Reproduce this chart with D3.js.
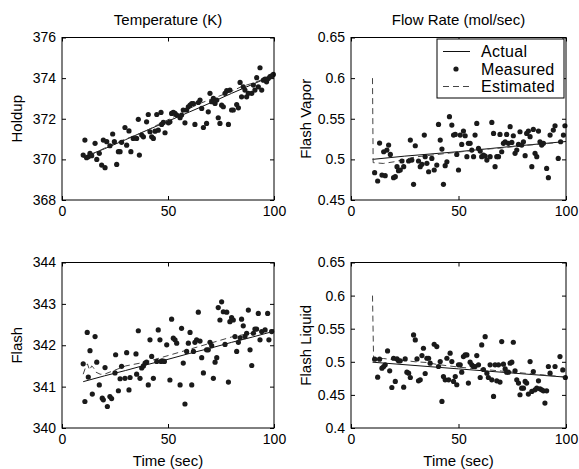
<!DOCTYPE html>
<html>
<head>
<meta charset="utf-8">
<script src="https://cdn.jsdelivr.net/npm/d3@7"></script>
<style>
  body { margin: 0; background: #fff; }
  svg { display: block; font-family: "Liberation Sans", Arial, sans-serif; }
  .tick text { font-size: 14px; fill: #000; }
  .tick line { stroke: #000; }
  .domain { display: none; }
</style>
</head>
<body>
<div id="chart"></div>
<script>
// x ticks shared by all panels
const timeTicks = [0, 50, 100];

// Temperature - Holdup
const holdupTicks = [368, 370, 372, 374, 376];
const holdupMeasured = [[10,370.21],[10.8,370.95],[11.6,370.08],[12.4,370.13],[13.2,370.3],[14,370.18],[15.6,370.79],[16.4,370.0],[17.6,370.3],[18.7,369.72],[19.5,370.95],[20.3,369.59],[21.1,370.87],[22.6,370.67],[23.9,371.25],[24.7,370.87],[25.8,369.75],[26.6,370.38],[27.4,370.38],[28.1,370.84],[29.7,371.57],[30.5,370.7],[31.6,371.4],[32.5,370.38],[33.6,371.03],[35.2,371.03],[36,371.97],[36.5,370.21],[37.6,371.2],[38.4,371.11],[39.9,371.85],[40.7,372.21],[41.5,371.36],[42.3,371.11],[43.1,371.03],[43.9,371.39],[44.7,372.21],[45.4,371.44],[46.7,372.31],[47,371.72],[47.8,371.82],[48.6,371.31],[50.2,371.8],[50.9,371.85],[51.7,372.26],[52.5,372.31],[53.3,372.26],[54.1,372.18],[55.7,372.05],[56.4,372.18],[57.2,372.43],[58,371.8],[58.8,372.43],[59.6,372.59],[60.4,372.67],[61.2,372.75],[62,372.75],[62.7,371.72],[64.3,372.8],[65.1,372.92],[65.9,372.51],[66.7,371.57],[68.2,371.77],[69,372.34],[69.8,373.25],[70.6,372.84],[71.4,373.0],[72.2,372.75],[73,372.92],[73.7,372.05],[74.5,371.77],[75.3,372.67],[76.1,372.59],[76.9,373.25],[77.7,373.38],[78.5,371.72],[79.2,373.41],[80,372.43],[80.8,372.43],[82.4,372.7],[83.2,372.54],[84,373.79],[84.7,373.08],[85.5,373.57],[86.3,373.41],[87.1,373.08],[87.9,373.25],[89.5,373.25],[90.3,373.66],[91,373.41],[91.8,374.02],[92.6,373.57],[93.4,374.51],[94.2,373.41],[95,373.9],[95.8,373.95],[96.5,373.82],[97.3,373.98],[98.1,374.07],[98.9,374.11],[99.7,374.18]];
const holdupActual = [[10,370.1],[20,370.52],[30,370.97],[40,371.43],[50,371.88],[60,372.33],[70,372.78],[80,373.25],[90,373.7],[100,374.15]];
const holdupEstimated = [[10,370.25],[12,370.1],[15,370.3],[20,370.55],[25,370.8],[30,371.0],[35,371.2],[40,371.42],[45,371.7],[50,371.95],[55,372.22],[60,372.5],[65,372.75],[70,372.95],[75,373.15],[80,373.35],[85,373.6],[90,373.75],[95,373.95],[100,374.15]];

// Flow rate - Flash vapor
const vaporTicks = [0.45, 0.5, 0.55, 0.6, 0.65];
const vaporMeasured = [[11,0.4836],[12.4,0.4734],[13.3,0.5201],[14.4,0.4807],[15.2,0.5094],[15.9,0.4799],[16.7,0.5115],[17.5,0.5176],[18.3,0.5061],[19.8,0.4775],[20.6,0.4787],[21.4,0.491],[22.1,0.4861],[22.9,0.4869],[23.7,0.498],[24.5,0.491],[26.8,0.498],[27.6,0.5238],[28.3,0.4992],[29.1,0.4693],[29.9,0.5168],[31.4,0.498],[32.2,0.491],[33,0.4939],[34.1,0.5299],[34.5,0.5033],[35.3,0.4951],[36.1,0.4848],[37.6,0.5012],[38.7,0.4869],[39.9,0.493],[40.7,0.543],[41.5,0.5238],[42.3,0.5127],[43,0.4693],[43.8,0.4922],[44.6,0.4971],[45.8,0.5525],[46.9,0.5422],[47.7,0.5299],[48.5,0.5307],[49.2,0.5061],[50,0.4869],[50.8,0.5299],[51.5,0.5184],[52.3,0.5348],[53.1,0.5291],[53.9,0.5033],[54.6,0.5197],[55.4,0.5197],[56.2,0.5115],[57,0.5033],[57.7,0.5299],[58.5,0.5443],[59.3,0.5135],[60.1,0.5102],[60.8,0.5033],[61.6,0.5053],[62.4,0.5041],[63.2,0.4992],[64.7,0.5033],[65.5,0.5455],[66.3,0.532],[67,0.491],[67.8,0.5033],[68.6,0.5033],[69.3,0.5307],[70.1,0.5094],[70.9,0.5197],[71.7,0.5217],[72.4,0.5307],[73.2,0.5197],[74,0.5402],[74.8,0.5209],[75.5,0.5291],[76.3,0.5074],[77.1,0.5115],[77.9,0.5184],[78.6,0.534],[79.4,0.5176],[80.2,0.5217],[81,0.5045],[81.7,0.532],[82.5,0.5348],[83.3,0.5279],[84.1,0.491],[84.8,0.5369],[85.6,0.5074],[86.4,0.5033],[87.2,0.5348],[87.9,0.5217],[88.7,0.5176],[89.5,0.5197],[91,0.4889],[91.8,0.4775],[92.6,0.5299],[94.1,0.5361],[94.9,0.5414],[96.4,0.5012],[97.5,0.5217],[98.8,0.5299],[99.5,0.5414]];
const vaporActual = [[10,0.5],[25,0.504],[50,0.5095],[75,0.516],[100,0.522]];
const vaporEstimated = [[10,0.6],[10.3,0.496],[15,0.495],[20,0.497],[30,0.503],[40,0.506],[50,0.509],[60,0.512],[70,0.514],[80,0.517],[90,0.519],[100,0.522]];

// Temperature - Flash
const flashTicks = [340, 341, 342, 343, 344];
const flashMeasured = [[10,341.55],[10.8,340.64],[11.9,342.31],[12.4,341.23],[13.2,341.87],[14.3,340.82],[15.6,342.21],[16.4,341.59],[17.6,341.04],[19,340.72],[19.5,340.68],[20.3,341.46],[21.4,340.52],[22.6,340.76],[23.4,340.71],[25,341.33],[25.3,341.77],[26.6,340.9],[27.4,341.19],[28.1,341.49],[29.7,341.2],[30.5,341.82],[31.6,340.92],[32.1,341.22],[34.9,341.79],[35.2,341.3],[36,342.35],[36.8,341.2],[37.6,341.45],[38.4,341.5],[39.2,341.57],[39.9,341.59],[40.7,341.04],[41.5,342.13],[42.3,341.73],[43.1,341.2],[44.7,341.61],[45.4,342.37],[46.2,342.13],[46.7,341.61],[47.3,341.62],[48.3,341.61],[49.4,342.01],[50.9,341.16],[51.7,342.63],[52.5,342.17],[53.3,342.13],[54.1,342.05],[55.7,341.04],[56.4,342.41],[57.2,341.57],[58,340.58],[58.8,341.85],[59.6,342.05],[60.4,342.31],[61.2,341.04],[62,341.85],[62.7,342.07],[63.5,342.13],[64.3,342.8],[65.1,342.1],[65.9,341.7],[66.7,341.33],[68.2,341.89],[69,341.89],[69.8,342.07],[70.6,341.99],[71.4,341.2],[72.2,341.59],[73,341.7],[73.7,342.91],[74.5,342.61],[75.3,343.05],[76.1,342.81],[76.9,342.02],[77.7,342.8],[78.5,341.11],[79.2,342.57],[80,342.67],[80.8,342.61],[81.6,342.21],[82.4,341.85],[83.2,342.07],[84,342.18],[84.7,342.63],[85.5,342.47],[86.3,342.21],[87.1,342.29],[87.9,342.85],[88.7,341.89],[89.5,341.51],[90.3,342.29],[91,342.39],[91.8,342.39],[92.6,342.77],[93.4,342.13],[94.2,342.33],[95.8,342.37],[97,342.77],[97.6,342.13],[98.9,342.33]];
const flashActual = [[10,341.12],[20,341.26],[30,341.39],[40,341.53],[50,341.66],[60,341.8],[70,341.93],[80,342.07],[90,342.2],[100,342.34]];
const flashEstimated = [[10,341.3],[11,341.45],[12,341.55],[13,341.4],[14,341.5],[15,341.45],[16,341.35],[18,341.3],[20,341.3],[25,341.4],[30,341.5],[40,341.6],[50,341.75],[60,341.9],[70,342.05],[80,342.2],[90,342.3],[100,342.38]];

// Flow rate - Flash liquid
const liquidTicks = [0.4, 0.45, 0.5, 0.55, 0.6, 0.65];
const liquidMeasured = [[11,0.5039],[12.4,0.4768],[13.3,0.5039],[14.4,0.4904],[15.2,0.4929],[15.9,0.4954],[17,0.5165],[18,0.4863],[19,0.4612],[19.8,0.5054],[20.6,0.4703],[21.4,0.5044],[22.1,0.5014],[22.9,0.5014],[24.5,0.4617],[25.2,0.5044],[26,0.4843],[26.8,0.4828],[27.6,0.4763],[29.1,0.5406],[29.9,0.533],[30.7,0.5044],[31.4,0.4713],[32.2,0.4728],[33,0.5094],[33.7,0.5205],[34.5,0.4823],[35.3,0.5054],[36.1,0.5054],[36.8,0.4979],[38.7,0.5265],[39.9,0.523],[40.7,0.4929],[41.5,0.5004],[42.3,0.4402],[43,0.4778],[43.8,0.4728],[44.6,0.5054],[45.4,0.4728],[46.1,0.513],[46.9,0.5004],[47.7,0.4703],[48.5,0.4778],[49.2,0.4653],[50,0.4954],[50.8,0.4954],[51.5,0.4843],[52.3,0.5079],[53.1,0.5104],[53.9,0.5104],[54.6,0.4678],[55.4,0.4994],[56.2,0.4954],[57,0.4929],[57.7,0.4929],[58.5,0.5094],[59.3,0.4954],[60.1,0.4763],[60.8,0.5255],[61.6,0.4884],[62.4,0.538],[63.2,0.4828],[63.9,0.4763],[64.7,0.4954],[65.5,0.4728],[66.3,0.4477],[67,0.4954],[67.8,0.4713],[68.6,0.4954],[69.3,0.4693],[70.1,0.5305],[70.9,0.4964],[71.7,0.4894],[72.4,0.4843],[73.2,0.4843],[74,0.4979],[74.8,0.4994],[75.5,0.5295],[76.3,0.4863],[77.1,0.4728],[77.9,0.4678],[78.6,0.4502],[79.4,0.4602],[80.2,0.4602],[81,0.4703],[81.7,0.4678],[82.5,0.4512],[83.3,0.5004],[84.1,0.4552],[84.8,0.4853],[85.6,0.4577],[86.4,0.4602],[87.2,0.4713],[87.9,0.4592],[88.7,0.4577],[89.5,0.4562],[90.2,0.4376],[91,0.4562],[91.8,0.4929],[92.6,0.4828],[94.9,0.4929],[97.2,0.5079],[98.5,0.4878],[99.7,0.4763]];
const liquidActual = [[10,0.4994],[50,0.4893],[100,0.4768]];
const liquidEstimated = [[10,0.6],[10.5,0.505],[15,0.505],[20,0.503],[25,0.502],[30,0.5],[35,0.499],[40,0.496],[50,0.492],[60,0.489],[70,0.486],[80,0.483],[90,0.48],[100,0.477]];

const legendLabels = ['Actual', 'Measured', 'Estimated'];

const width = 579, height = 469;
const svg = d3.select('#chart').append('svg')
  .attr('width', width)
  .attr('height', height);

const cols = [{ x0: 62, x1: 274 }, { x0: 351, x1: 566 }];
const rows = [{ y0: 37.5, y1: 200 }, { y0: 262.5, y1: 428 }];

const panels = [
  { col: 0, row: 0, ticks: holdupTicks, meas: holdupMeasured, act: holdupActual, est: holdupEstimated, ylabel: 'Holdup', title: 'Temperature (K)' },
  { col: 1, row: 0, ticks: vaporTicks, meas: vaporMeasured, act: vaporActual, est: vaporEstimated, ylabel: 'Flash Vapor', title: 'Flow Rate (mol/sec)', legend: true },
  { col: 0, row: 1, ticks: flashTicks, meas: flashMeasured, act: flashActual, est: flashEstimated, ylabel: 'Flash', xlabel: 'Time (sec)' },
  { col: 1, row: 1, ticks: liquidTicks, meas: liquidMeasured, act: liquidActual, est: liquidEstimated, ylabel: 'Flash Liquid', xlabel: 'Time (sec)' },
];

panels.forEach((p) => {
  const c = cols[p.col];
  const r = rows[p.row];
  const w = c.x1 - c.x0;
  const h = r.y1 - r.y0;

  const x = d3.scaleLinear().domain([0, 100]).range([0, w]);
  const y = d3.scaleLinear().domain(d3.extent(p.ticks)).range([h, 0]);

  const g = svg.append('g').attr('transform', `translate(${c.x0},${r.y0})`);

  // axes (ticks point inwards, MATLAB style)
  g.append('g')
    .attr('transform', `translate(0,${h})`)
    .call(d3.axisBottom(x).tickValues(timeTicks).tickSizeInner(-4).tickSizeOuter(0).tickPadding(6));
  g.append('g')
    .call(d3.axisTop(x).tickValues(timeTicks).tickSizeInner(-4).tickSizeOuter(0).tickFormat(''));
  g.append('g')
    .call(d3.axisLeft(y).tickValues(p.ticks).tickSizeInner(-4).tickSizeOuter(0).tickPadding(6).tickFormat((d) => String(d)));
  g.append('g')
    .attr('transform', `translate(${w},0)`)
    .call(d3.axisRight(y).tickValues(p.ticks).tickSizeInner(-4).tickSizeOuter(0).tickFormat(''));

  const line = d3.line().x((d) => x(d[0])).y((d) => y(d[1]));

  g.append('path')
    .datum(p.act)
    .attr('d', line)
    .attr('fill', 'none')
    .attr('stroke', '#111')
    .attr('stroke-width', 1);

  g.append('path')
    .datum(p.est)
    .attr('d', line)
    .attr('fill', 'none')
    .attr('stroke', '#444')
    .attr('stroke-width', 1)
    .attr('stroke-dasharray', '6,4');

  g.selectAll('.dot')
    .data(p.meas)
    .join('circle')
    .attr('class', 'dot')
    .attr('cx', (d) => x(d[0]))
    .attr('cy', (d) => y(d[1]))
    .attr('r', 2.6)
    .attr('fill', '#1a1a1a');

  // frame
  g.append('rect')
    .attr('width', w)
    .attr('height', h)
    .attr('fill', 'none')
    .attr('stroke', '#000')
    .attr('stroke-width', 1);

  // y label
  g.append('text')
    .attr('transform', `translate(-40,${h / 2}) rotate(-90)`)
    .attr('text-anchor', 'middle')
    .style('font-size', '15px')
    .text(p.ylabel);

  if (p.title) {
    g.append('text')
      .attr('x', w / 2)
      .attr('y', -12.5)
      .attr('text-anchor', 'middle')
      .style('font-size', '15px')
      .text(p.title);
  }

  if (p.xlabel) {
    g.append('text')
      .attr('x', w / 2)
      .attr('y', h + 38)
      .attr('text-anchor', 'middle')
      .style('font-size', '15px')
      .text(p.xlabel);
  }

  if (p.legend) {
    const lg = g.append('g').attr('transform', `translate(${w - 129},1.5)`);
    lg.append('rect')
      .attr('width', 127)
      .attr('height', 59)
      .attr('fill', '#fff')
      .attr('stroke', '#000');
    legendLabels.forEach((lab, i) => {
      const yy = 12.5 + i * 17.5;
      if (i === 1) {
        lg.append('circle').attr('cx', 19).attr('cy', yy).attr('r', 2.6).attr('fill', '#1a1a1a');
      } else {
        lg.append('line')
          .attr('x1', 6).attr('x2', 33).attr('y1', yy).attr('y2', yy)
          .attr('stroke', i === 0 ? '#111' : '#444')
          .attr('stroke-dasharray', i === 2 ? '6,4' : null);
      }
      lg.append('text')
        .attr('x', 44)
        .attr('y', yy)
        .attr('dy', '0.35em')
        .style('font-size', '16px')
        .style('letter-spacing', '0.3px')
        .text(lab);
    });
  }
});
</script>
</body>
</html>
